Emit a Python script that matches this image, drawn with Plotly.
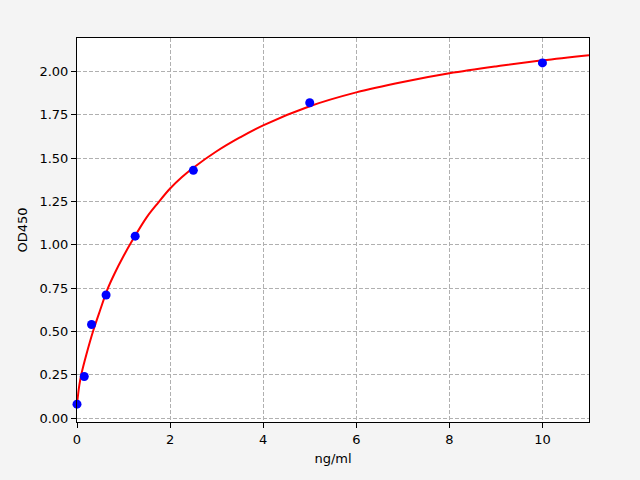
import plotly.graph_objects as go

# Standard points
conc = [0, 0.156, 0.3125, 0.625, 1.25, 2.5, 5, 10]
od = [0.08, 0.24, 0.54, 0.71, 1.05, 1.43, 1.82, 2.05]

# Fitted curve
fit_x = [0, 0.05, 0.1, 0.2, 0.35, 0.5, 0.65, 0.8, 1.0, 1.2, 1.5, 1.75, 2.0,
         2.25, 2.5, 3, 3.5, 4, 5, 6, 7, 8, 9, 10, 11]
fit_y = [0.08, 0.19, 0.26, 0.365, 0.505, 0.625, 0.74, 0.83, 0.935, 1.03, 1.16,
         1.245, 1.325, 1.39, 1.445, 1.54, 1.62, 1.69, 1.80, 1.88, 1.94, 1.99,
         2.03, 2.065, 2.095]

font = dict(family="DejaVu Sans", size=13, color="black")

fig = go.Figure()
fig.add_trace(go.Scatter(
    x=fit_x, y=fit_y, mode="lines", line=dict(color="red", width=2, shape="spline"),
    showlegend=False
))
fig.add_trace(go.Scatter(
    x=conc, y=od, mode="markers", marker=dict(color="blue", size=9),
    showlegend=False, cliponaxis=False
))

axis = dict(
    showline=True, linecolor="black", linewidth=1, mirror=True,
    ticks="outside", ticklen=5, tickcolor="black",
    showgrid=True, gridcolor="#b0b0b0", griddash="4px,2px", gridwidth=1,
    zeroline=False, tickfont=font,
)
fig.update_xaxes(axis, range=[0, 11], tickvals=[0, 2, 4, 6, 8, 10],
                 title=dict(text="ng/ml", font=font, standoff=8))
fig.update_yaxes(axis, range=[-0.023, 2.194],
                 tickvals=[0, 0.25, 0.5, 0.75, 1.0, 1.25, 1.5, 1.75, 2.0],
                 tickformat=".2f", title=dict(text="OD450", font=font, standoff=8))
fig.update_layout(
    width=640, height=480, paper_bgcolor="#f4f4f4", plot_bgcolor="white",
    margin=dict(l=77, r=51, t=38, b=58), font=font,
)
fig.write_html("out.html", config={"displayModeBar": False},
               post_script="document.body.style.margin='0';")
